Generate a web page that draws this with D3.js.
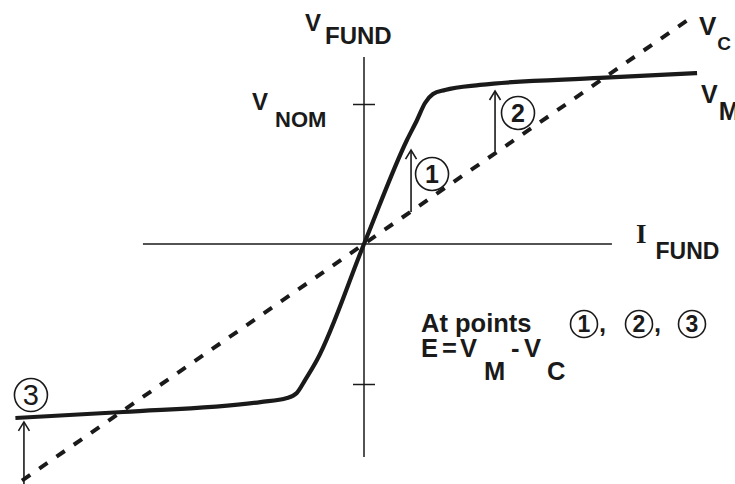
<!DOCTYPE html>
<html>
<head>
<meta charset="utf-8">
<script src="https://cdn.jsdelivr.net/npm/d3@7"></script>
<style>
  html, body { margin: 0; padding: 0; background: #fff; }
  svg { display: block; }
  text { font-family: "Liberation Sans", Arial, sans-serif; font-weight: bold; fill: #1a1a1a; }
</style>
</head>
<body>
<svg id="chart" width="735" height="484"></svg>
<script>
// Magnetising characteristic V_M (fundamental voltage vs current), per-unit of V_NOM
const vmCurrent = [-2.49, -1.72, -0.74, -0.55, -0.48, -0.42, -0.336, 0, 0.307, 0.379, 0.436, 0.493, 0.579, 0.829, 1.686, 2.379];
const vmVoltage = [-1.243, -1.2, -1.129, -1.1, -1.064, -0.971, -0.829, 0, 0.743, 0.886, 1.007, 1.071, 1.1, 1.136, 1.186, 1.221];

// Capacitor line V_C (straight through origin), endpoints
const vcCurrent = [-2.443, 2.343];
const vcVoltage = [-1.69, 1.621];

// Axis extents and tick values
const axisCurrentRange = [-1.579, 1.771];
const axisVoltageRange = [-1.521, 1.336];
const voltageTicks = [-1, 1];

// Error arrows E = V_M - V_C at the three marked points
const arrowId = ["1", "2", "3"];
const arrowCurrent = [0.336, 0.936, -2.429];
const arrowFrom = [0.229, 0.66, -1.75];
const arrowTo = [0.671, 1.093, -1.271];
const badgeCurrent = [0.486, 1.1, -2.379];
const badgeVoltage = [0.5, 0.936, -1.079];

const svg = d3.select("#chart");
const x = d3.scaleLinear().domain([-1, 1]).range([224, 504]);
const y = d3.scaleLinear().domain([-1, 1]).range([384, 104]);
const ink = "#1a1a1a";

// Axes
svg.append("line")
  .attr("x1", x(0)).attr("x2", x(0))
  .attr("y1", y(axisVoltageRange[1])).attr("y2", y(axisVoltageRange[0]))
  .attr("stroke", ink).attr("stroke-width", 1.5);
svg.append("line")
  .attr("x1", x(axisCurrentRange[0])).attr("x2", x(axisCurrentRange[1]))
  .attr("y1", y(0)).attr("y2", y(0))
  .attr("stroke", ink).attr("stroke-width", 1.5);

const tickAxis = d3.axisLeft(y).tickValues(voltageTicks).tickSize(-22).tickFormat("");
svg.append("g")
  .attr("transform", `translate(${x(0) - 11},0)`)
  .call(tickAxis)
  .call(g => g.select(".domain").remove())
  .call(g => g.selectAll(".tick line").attr("stroke", ink).attr("stroke-width", 1.5));

// V_C dashed line
const vcData = vcCurrent.map((c, i) => [c, vcVoltage[i]]);
svg.append("path")
  .datum(vcData)
  .attr("d", d3.line().x(d => x(d[0])).y(d => y(d[1])))
  .attr("fill", "none").attr("stroke", ink)
  .attr("stroke-width", 4).attr("stroke-dasharray", "10 11");

// V_M solid curve
const vmData = vmCurrent.map((c, i) => [c, vmVoltage[i]]);
svg.append("path")
  .datum(vmData)
  .attr("d", d3.line().x(d => x(d[0])).y(d => y(d[1])).curve(d3.curveMonotoneX))
  .attr("fill", "none").attr("stroke", ink)
  .attr("stroke-width", 4.2).attr("stroke-linecap", "butt");

// Arrows with circled point numbers
arrowId.forEach((id, i) => {
  const ax = x(arrowCurrent[i]);
  const y0 = y(arrowFrom[i]);
  const y1 = y(arrowTo[i]);
  svg.append("line")
    .attr("x1", ax).attr("x2", ax).attr("y1", y0).attr("y2", y1 + 1)
    .attr("stroke", ink).attr("stroke-width", 1.6);
  svg.append("path")
    .attr("d", `M${ax - 5.5},${y1 + 9} L${ax},${y1} L${ax + 5.5},${y1 + 9}`)
    .attr("fill", "none").attr("stroke", ink).attr("stroke-width", 1.6);
  const bx = x(badgeCurrent[i]);
  const by = y(badgeVoltage[i]);
  svg.append("circle")
    .attr("cx", bx).attr("cy", by).attr("r", 16.5)
    .attr("fill", "none").attr("stroke", ink).attr("stroke-width", 1.6);
  svg.append("text")
    .attr("x", bx).attr("y", by + (id === "3" ? 10 : 9))
    .attr("text-anchor", "middle")
    .style("font-size", id === "3" ? "29px" : "25px")
    .style("font-weight", id === "3" ? "normal" : "bold")
    .text(id);
});

// Axis and curve labels
function subLabel(xp, yp, main, sub, mainSize, subSize, subDx, subDy) {
  const t = svg.append("text").attr("x", xp).attr("y", yp);
  t.append("tspan").style("font-size", mainSize + "px").text(main);
  t.append("tspan").attr("dx", subDx).attr("dy", subDy).style("font-size", subSize + "px").text(sub);
  return t;
}
subLabel(305, 31, "V", "FUND", 24, 24, 4, 13);
subLabel(252, 110, "V", "NOM", 24, 22, 7, 17);
subLabel(699, 35, "V", "C", 26, 19, 1, 15);
subLabel(701, 103, "V", "M", 25, 25, 1, 17);

// I_FUND
const iLab = svg.append("text").attr("x", 636).attr("y", 243);
iLab.append("tspan").style("font-family", "'Liberation Serif', 'Times New Roman', serif").style("font-size", "27px").text("I");
iLab.append("tspan").attr("dx", 9).attr("dy", 16).style("font-size", "23px").text("FUND");

// Annotation
const noteSize = 25.5;
svg.append("text").attr("x", 421).attr("y", 332).style("font-size", noteSize + "px").text("At points");
const noteBadges = [584, 639, 692];
noteBadges.forEach((cx, i) => {
  svg.append("circle").attr("cx", cx).attr("cy", 324).attr("r", 13.5)
    .attr("fill", "none").attr("stroke", ink).attr("stroke-width", 1.6);
  svg.append("text").attr("x", cx).attr("y", 332).attr("text-anchor", "middle")
    .style("font-size", "23px").text(arrowId[i]);
  if (i < 2) {
    svg.append("text").attr("x", cx + 15).attr("y", 332).style("font-size", noteSize + "px").text(",");
  }
});
const eqParts = [
  { t: "E", x: 421, y: 357 },
  { t: "=", x: 442, y: 357 },
  { t: "V", x: 460, y: 357 },
  { t: "M", x: 484, y: 380 },
  { t: "-", x: 511, y: 357 },
  { t: "V", x: 524, y: 357 },
  { t: "C", x: 547, y: 380 }
];
const eq = svg.append("text").style("font-size", noteSize + "px");
eqParts.forEach(p => eq.append("tspan").attr("x", p.x).attr("y", p.y).text(p.t));
</script>
</body>
</html>
